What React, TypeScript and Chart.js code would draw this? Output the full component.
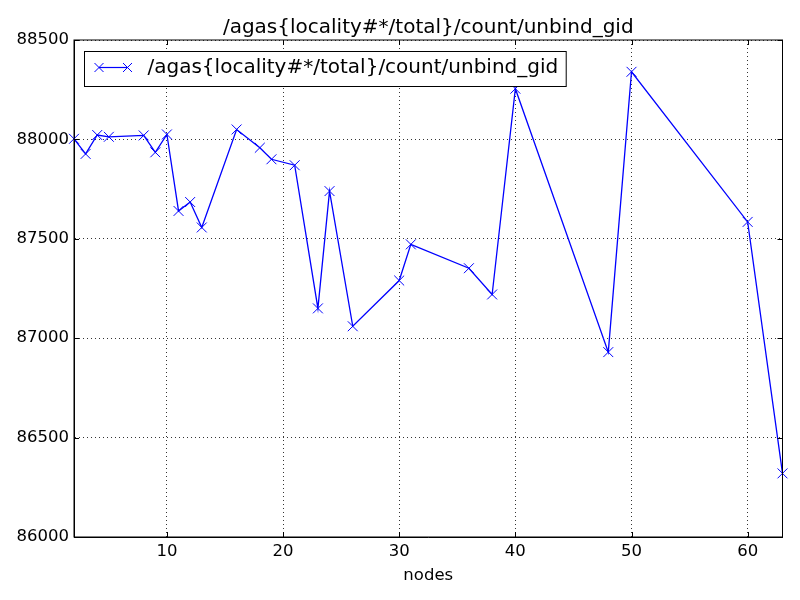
import React, { useEffect, useRef } from "react";
import { Chart, registerables, ChartConfiguration, Plugin } from "chart.js";

Chart.register(...registerables);

const TITLE = "/agas{locality#*/total}/count/unbind_gid";
const nodes = [2, 3, 4, 5, 8, 9, 10, 11, 12, 13, 16, 18, 19, 21, 23, 24, 26, 30, 31, 36, 38, 40, 48, 50, 60, 63];
const counts = [
  88003, 87927, 88022, 88013, 88020, 87935, 88025, 87640, 87685, 87557, 88050, 87958, 87900, 87870,
  87150, 87740, 87060, 87290, 87472, 87352, 87220, 88255, 86930, 88340, 87585, 86320,
];
const xTicks = [10, 20, 30, 40, 50, 60];
const yTicks = [86000, 86500, 87000, 87500, 88000, 88500];

const FONT = "'DejaVu Sans', sans-serif";
const BLUE = "#0000ff";

// title, frame, inward ticks and the boxed legend, matplotlib style
const decorPlugin: Plugin<"line"> = {
  id: "decor",
  afterDatasetsDraw(chart) {
    const { ctx, chartArea: a, scales } = chart;
    const xs = scales.x;
    const ys = scales.y;
    ctx.save();

    ctx.fillStyle = "#000";
    ctx.font = `20px ${FONT}`;
    ctx.textAlign = "center";
    ctx.textBaseline = "alphabetic";
    ctx.fillText(TITLE, (a.left + a.right) / 2, a.top - 7);

    ctx.strokeStyle = "#000";
    ctx.lineWidth = 1;
    ctx.strokeRect(a.left, a.top, a.right - a.left, a.bottom - a.top);

    ctx.beginPath();
    xTicks.forEach((v) => {
      const px = Math.round(xs.getPixelForValue(v)) + 0.5;
      ctx.moveTo(px, a.bottom);
      ctx.lineTo(px, a.bottom - 5);
      ctx.moveTo(px, a.top);
      ctx.lineTo(px, a.top + 5);
    });
    yTicks.forEach((v) => {
      const py = Math.round(ys.getPixelForValue(v)) + 0.5;
      ctx.moveTo(a.left, py);
      ctx.lineTo(a.left + 5, py);
      ctx.moveTo(a.right, py);
      ctx.lineTo(a.right - 5, py);
    });
    ctx.stroke();

    // legend
    ctx.font = `20px ${FONT}`;
    const bx = Math.round(a.left + 10) + 0.5;
    const by = Math.round(a.top + 11) + 0.5;
    const textX = bx + 63;
    const tw = ctx.measureText(TITLE).width;
    const bw = textX - bx + tw + 8;
    const bh = 35;
    ctx.fillStyle = "#fff";
    ctx.fillRect(bx, by, bw, bh);
    ctx.strokeRect(bx, by, bw, bh);
    const ly = by + 16;
    const x1 = bx + 14.5;
    const x2 = bx + 43;
    ctx.strokeStyle = BLUE;
    ctx.lineWidth = 1.2;
    ctx.beginPath();
    ctx.moveTo(x1, ly);
    ctx.lineTo(x2, ly);
    ctx.stroke();
    ctx.lineWidth = 1;
    [x1, x2].forEach((mx) => {
      ctx.beginPath();
      ctx.moveTo(mx - 4.5, ly - 4.5);
      ctx.lineTo(mx + 4.5, ly + 4.5);
      ctx.moveTo(mx - 4.5, ly + 4.5);
      ctx.lineTo(mx + 4.5, ly - 4.5);
      ctx.stroke();
    });
    ctx.fillStyle = "#000";
    ctx.textAlign = "left";
    ctx.textBaseline = "middle";
    ctx.fillText(TITLE, textX, ly);
    ctx.restore();
  },
};

export default function App() {
  const canvasRef = useRef<HTMLCanvasElement | null>(null);

  useEffect(() => {
    if (!canvasRef.current) return;
    const config: ChartConfiguration<"line"> = {
      type: "line",
      data: {
        datasets: [
          {
            label: TITLE,
            data: nodes.map((n, i) => ({ x: n, y: counts[i] })),
            borderColor: BLUE,
            borderWidth: 1.3,
            pointStyle: "crossRot",
            pointRadius: 7,
            pointBorderColor: BLUE,
            pointBorderWidth: 1,
            pointBackgroundColor: BLUE,
            tension: 0,
            fill: false,
            clip: false,
          },
        ],
      },
      options: {
        animation: false,
        responsive: false,
        layout: { padding: { left: 0, top: 40, right: 17.5, bottom: 0 } },
        plugins: {
          legend: { display: false },
          title: { display: false },
          tooltip: { enabled: false },
        },
        scales: {
          x: {
            type: "linear",
            min: 2,
            max: 63,
            afterFit: (s) => {
              s.height = 63;
            },
            ticks: {
              stepSize: 10,
              includeBounds: false,
              color: "#000",
              padding: 5,
              maxRotation: 0,
              font: { family: FONT, size: 16.5 },
            },
            grid: { color: "#000", lineWidth: 0.8, tickLength: 0, drawTicks: false },
            border: { display: true, color: "#000", dash: [1, 3] },
            title: {
              display: true,
              text: "nodes",
              color: "#000",
              font: { family: FONT, size: 16.5 },
              padding: { top: 0, bottom: 14 },
            },
          },
          y: {
            type: "linear",
            min: 86000,
            max: 88500,
            afterFit: (s) => {
              s.width = 74;
            },
            ticks: {
              stepSize: 500,
              color: "#000",
              padding: 5,
              font: { family: FONT, size: 16.5 },
              callback: (v) => String(v),
            },
            grid: { color: "#000", lineWidth: 0.8, tickLength: 0, drawTicks: false },
            border: { display: true, color: "#000", dash: [1, 3] },
          },
        },
      },
      plugins: [decorPlugin],
    };
    const chart = new Chart(canvasRef.current, config);
    return () => chart.destroy();
  }, []);

  return (
    <div style={{ position: "absolute", left: 0, top: 0, width: 800, height: 600, background: "#fff" }}>
      <canvas ref={canvasRef} width={800} height={600} style={{ width: 800, height: 600 }} />
    </div>
  );
}
